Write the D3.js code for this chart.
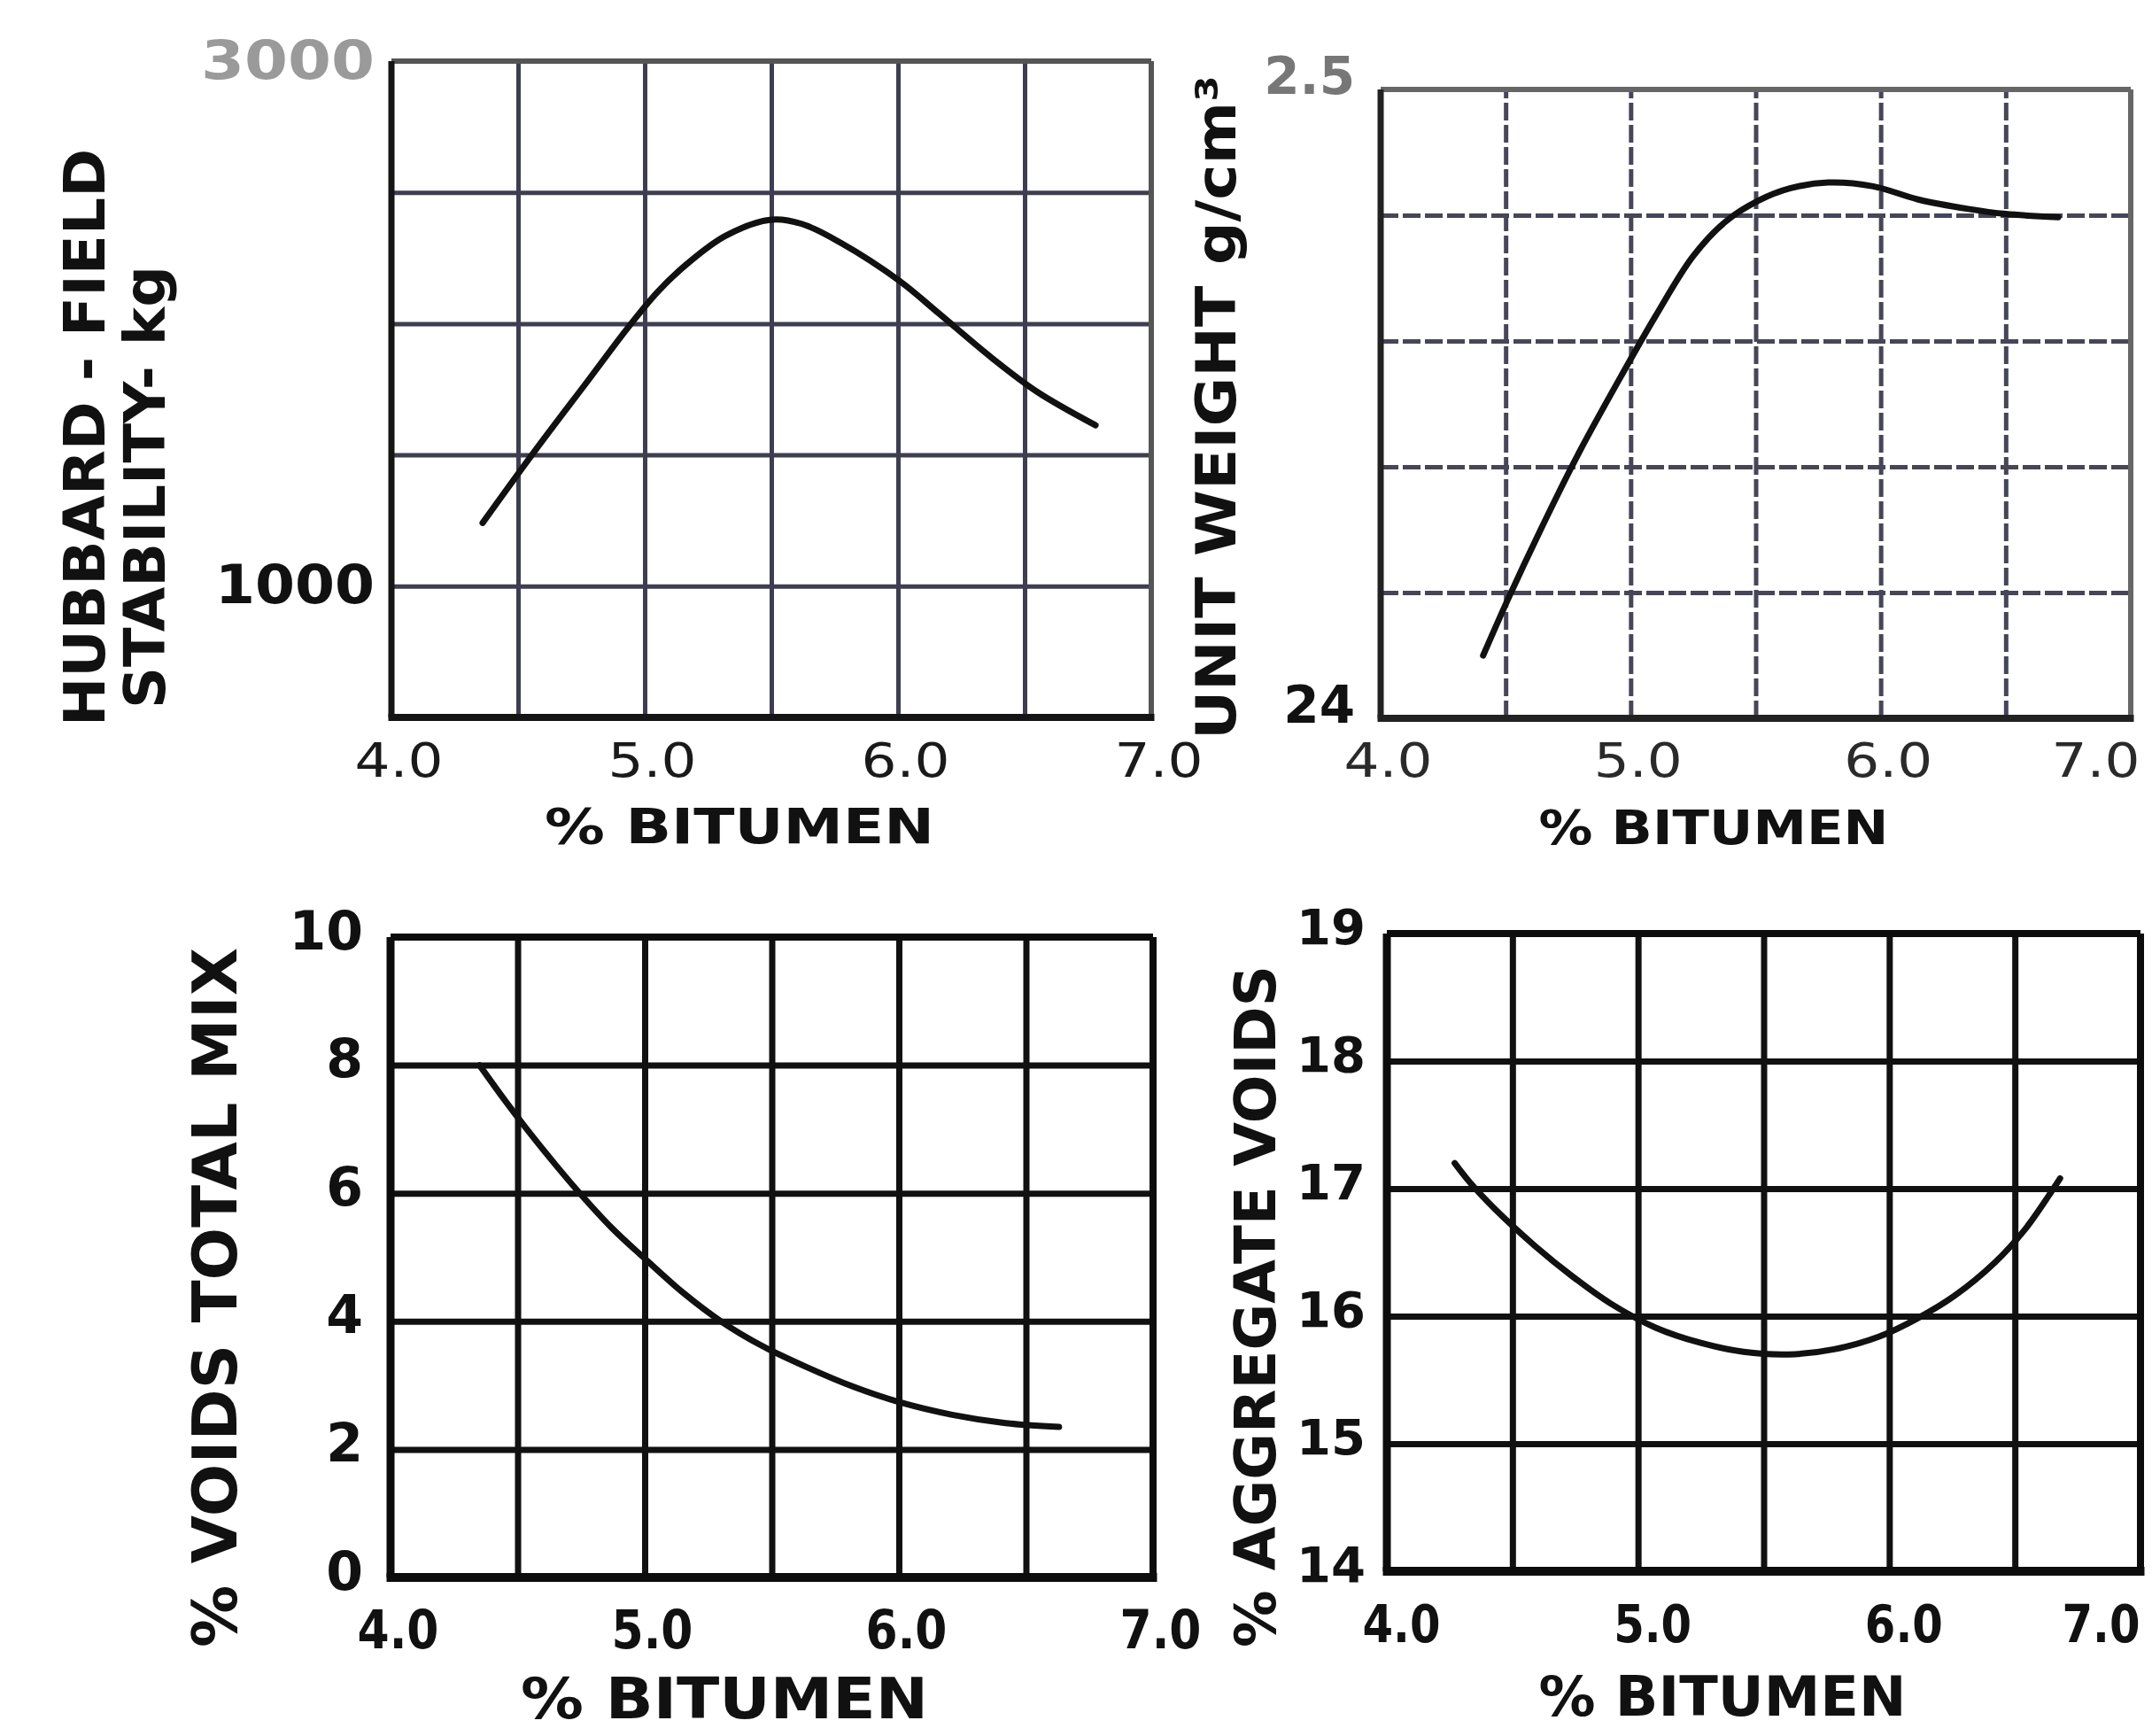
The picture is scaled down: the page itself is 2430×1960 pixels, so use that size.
<!DOCTYPE html>
<html><head><meta charset="utf-8">
<script src="https://cdn.jsdelivr.net/npm/d3@7"></script>
<style>html,body{margin:0;padding:0;background:#fff;} svg{display:block}</style>
</head><body>
<script>
// ---------- DATA ----------
const bitumenTicks = [4.0, 5.0, 6.0, 7.0];
const bitumenTickLabels = ["4.0", "5.0", "6.0", "7.0"];
const bitumenGrid = [4.0, 4.5, 5.0, 5.5, 6.0, 6.5, 7.0];

// Panel 1 : Hubbard-Field stability (kg)
const stabBitumen = [4.36, 4.57, 4.78, 4.93, 5.05, 5.17, 5.32, 5.50, 5.62, 5.77, 6.01, 6.16, 6.37, 6.55, 6.78];
const stabValues  = [1241, 1520, 1788, 1980, 2120, 2230, 2335, 2396, 2380, 2310, 2160, 2040, 1870, 1740, 1613];
const stabGrid = [500, 1000, 1500, 2000, 2500, 3000];
const stabTicks = [1000, 3000];
const stabTickLabels = ["1000", "3000"];

// Panel 2 : unit weight (g/cm3)
const unitBitumen = [4.41, 4.51, 4.64, 4.79, 4.97, 5.10, 5.25, 5.38, 5.51, 5.64, 5.79, 5.97, 6.15, 6.35, 6.50, 6.71];
const unitValues  = [2.410, 2.419, 2.430, 2.442, 2.455, 2.464, 2.4735, 2.479, 2.4823, 2.4843, 2.4852, 2.4846, 2.4825, 2.481, 2.4802, 2.4797];
const unitGrid = [2.40, 2.42, 2.44, 2.46, 2.48, 2.50];
const unitTicks = [2.40, 2.50];
const unitTickLabels = ["24", "2.5"];

// Panel 3 : % voids total mix
const vtmBitumen = [4.35, 4.45, 4.55, 4.65, 4.74, 4.87, 5.00, 5.15, 5.30, 5.46, 5.64, 5.82, 6.00, 6.21, 6.42, 6.63];
const vtmValues  = [8.00, 7.45, 6.93, 6.44, 6.02, 5.46, 4.98, 4.45, 4.00, 3.62, 3.28, 2.98, 2.74, 2.54, 2.41, 2.35];
const vtmGrid = [0, 2, 4, 6, 8, 10];
const vtmTickLabels = ["0", "2", "4", "6", "8", "10"];

// Panel 4 : % aggregate voids
const vmaBitumen = [4.27, 4.33, 4.43, 4.59, 4.74, 4.89, 5.07, 5.25, 5.42, 5.60, 5.78, 5.96, 6.11, 6.26, 6.42, 6.54, 6.64, 6.68];
const vmaValues  = [17.20, 17.05, 16.84, 16.55, 16.31, 16.10, 15.91, 15.79, 15.72, 15.70, 15.74, 15.84, 15.98, 16.16, 16.42, 16.68, 16.96, 17.08];
const vmaGrid = [14, 15, 16, 17, 18, 19];
const vmaTickLabels = ["14", "15", "16", "17", "18", "19"];

const xTitle = "% BITUMEN";

// ---------- DRAW ----------
const W = 2430, H = 1960;
const svg = d3.select("body").append("svg").attr("width", W).attr("height", H)
  .style("font-family", "'DejaVu Sans', sans-serif");
svg.append("rect").attr("width", W).attr("height", H).attr("fill", "#fff");

function rotText(g, txt, cx, cy, len, size, color) {
  g.append("text")
    .attr("transform", `translate(${cx},${cy}) rotate(-90)`)
    .attr("text-anchor", "middle").attr("dominant-baseline", "central")
    .attr("font-size", size).attr("font-weight", "bold").attr("fill", color || "#111")
    .attr("textLength", len).attr("lengthAdjust", "spacingAndGlyphs")
    .text(txt);
}

function panel(cfg) {
  const x = d3.scaleLinear().domain([4, 7]).range([cfg.left, cfg.right]);
  const y = d3.scaleLinear().domain(cfg.yDomain).range([cfg.bottom, cfg.top]);
  const g = svg.append("g");
  const h = cfg.bottom - cfg.top, w = cfg.right - cfg.left;

  // vertical grid
  const gx = g.append("g").attr("transform", `translate(0,${cfg.bottom})`)
    .call(d3.axisBottom(x).tickValues(bitumenGrid).tickSize(-h).tickFormat(""));
  gx.select(".domain").remove();
  gx.selectAll("line").attr("stroke", cfg.gridColor).attr("stroke-width", cfg.gridWidth)
    .attr("stroke-dasharray", cfg.dash || null);
  // horizontal grid
  const gy = g.append("g").attr("transform", `translate(${cfg.left},0)`)
    .call(d3.axisLeft(y).tickValues(cfg.yGrid).tickSize(-w).tickFormat(""));
  gy.select(".domain").remove();
  gy.selectAll("line").attr("stroke", cfg.gridColor).attr("stroke-width", cfg.gridWidth)
    .attr("stroke-dasharray", cfg.dash || null);

  // frame
  g.append("line").attr("x1", cfg.right).attr("x2", cfg.right).attr("y1", cfg.top).attr("y2", cfg.bottom)
    .attr("stroke", cfg.topColor).attr("stroke-width", cfg.frameWidth - 1);
  g.append("line").attr("x1", cfg.left).attr("x2", cfg.right).attr("y1", cfg.top).attr("y2", cfg.top)
    .attr("stroke", cfg.topColor).attr("stroke-width", cfg.frameWidth - 1);
  g.append("line").attr("x1", cfg.left).attr("x2", cfg.left).attr("y1", cfg.top).attr("y2", cfg.bottom)
    .attr("stroke", cfg.frameColor).attr("stroke-width", cfg.frameWidth);
  g.append("line").attr("x1", cfg.left - cfg.frameWidth / 2).attr("x2", cfg.right + cfg.frameWidth / 2)
    .attr("y1", cfg.bottom).attr("y2", cfg.bottom)
    .attr("stroke", cfg.frameColor).attr("stroke-width", cfg.frameWidth + 1);

  // curve
  const line = d3.line().x(d => x(d[0])).y(d => y(d[1])).curve(d3.curveCatmullRom.alpha(0.5));
  g.append("path").datum(d3.zip(cfg.xs, cfg.ys)).attr("d", line)
    .attr("fill", "none").attr("stroke", "#111").attr("stroke-width", cfg.curveWidth)
    .attr("stroke-linecap", "round").attr("stroke-linejoin", "round");

  // x tick labels
  const xl = g.append("g").attr("transform", `translate(${cfg.xLabelDx},${cfg.xLabelY})`)
    .call(d3.axisBottom(x).tickValues(bitumenTicks).tickSize(0)
      .tickFormat((d, i) => bitumenTickLabels[i]));
  xl.select(".domain").remove();
  xl.selectAll("text").attr("font-size", cfg.xTickSize).attr("font-weight", cfg.tickWeight)
    .attr("font-family", "'DejaVu Sans', sans-serif").attr("fill", cfg.tickColor)
    .attr("dy", 0).attr("dominant-baseline", "central").attr("y", 0)
    .attr("textLength", cfg.xTickLen).attr("lengthAdjust", "spacingAndGlyphs")
    .attr("x", d => {
      const c = x(d) + cfg.xLabelDx;
      const over = c + cfg.xTickLen / 2 - (W - 14);
      return over > 0 ? -over : 0;
    });

  // y tick labels
  const yl = g.append("g").attr("transform", `translate(${cfg.yLabelX},${cfg.yLabelDy})`)
    .call(d3.axisLeft(y).tickValues(cfg.yTicks).tickSize(0)
      .tickFormat((d, i) => cfg.yTickLabels[i]));
  yl.select(".domain").remove();
  const yt = yl.selectAll("text").attr("font-size", cfg.yTickSize).attr("font-weight", cfg.yTickWeight || "bold")
    .attr("font-family", "'DejaVu Sans', sans-serif")
    .attr("fill", (d, i) => (cfg.yTickColors ? cfg.yTickColors[i] : "#111"))
    .attr("dy", 0).attr("x", 0).attr("dominant-baseline", "central");
  if (cfg.yTickLens) yt.attr("textLength", (d, i) => cfg.yTickLens[i]).attr("lengthAdjust", "spacingAndGlyphs");

  // x title
  g.append("text").attr("x", cfg.xTitleX).attr("y", cfg.xTitleY)
    .attr("text-anchor", "middle").attr("dominant-baseline", "central")
    .attr("font-size", cfg.xTitleSize).attr("font-weight", "bold").attr("fill", "#111")
    .attr("textLength", cfg.xTitleLen).attr("lengthAdjust", "spacingAndGlyphs")
    .text(xTitle);
  return g;
}

// Panel 1
const g1 = panel({
  left: 442, right: 1300, top: 69, bottom: 810, yDomain: [500, 3000], yGrid: stabGrid,
  yTicks: stabTicks, yTickLabels: stabTickLabels, yTickColors: ["#111", "#9a9a9a"], yTickLens: [180, 196],
  xs: stabBitumen, ys: stabValues,
  gridColor: "#3e3e50", gridWidth: 5, frameColor: "#151515", topColor: "#555", frameWidth: 7, curveWidth: 7,
  xLabelDx: 8, xLabelY: 858, xTickSize: 54, xTickLen: 100, tickWeight: "normal", tickColor: "#1a1a1a",
  yLabelX: 423, yLabelDy: -2, yTickSize: 60,
  xTitleX: 835, xTitleY: 932, xTitleSize: 56, xTitleLen: 440
});
rotText(g1, "HUBBARD - FIELD", 96, 494, 652, 64);
rotText(g1, "STABILITY- kg", 164, 550, 500, 64);

// Panel 2
const g2 = panel({
  left: 1559, right: 2406, top: 101, bottom: 811, yDomain: [2.40, 2.50], yGrid: unitGrid,
  yTicks: unitTicks, yTickLabels: unitTickLabels, yTickColors: ["#111", "#777"],
  xs: unitBitumen, ys: unitValues,
  gridColor: "#464658", gridWidth: 5, dash: "20,5", frameColor: "#222", topColor: "#666", frameWidth: 7, curveWidth: 7,
  xLabelDx: 8, xLabelY: 858, xTickSize: 54, xTickLen: 100, tickWeight: "normal", tickColor: "#2a2a2a",
  yLabelX: 1530, yLabelDy: -16, yTickSize: 58,
  xTitleX: 1935, xTitleY: 934, xTitleSize: 54, xTitleLen: 395
});
rotText(g2, "UNIT WEIGHT g/cm\u00B3", 1373, 460, 750, 62);

// Panel 3
const g3 = panel({
  left: 441, right: 1302, top: 1058, bottom: 1781, yDomain: [0, 10], yGrid: vtmGrid,
  yTicks: vtmGrid, yTickLabels: vtmTickLabels,
  xs: vtmBitumen, ys: vtmValues,
  gridColor: "#111", gridWidth: 7, frameColor: "#0c0c0c", topColor: "#0c0c0c", frameWidth: 9, curveWidth: 7,
  xLabelDx: 8, xLabelY: 1840, xTickSize: 60, xTickLen: 92, tickWeight: "bold", tickColor: "#111",
  yLabelX: 410, yLabelDy: -8, yTickSize: 60,
  xTitleX: 818, xTitleY: 1918, xTitleSize: 64, xTitleLen: 460
});
rotText(g3, "% VOIDS TOTAL MIX", 243, 1465, 790, 70);

// Panel 4
const g4 = panel({
  left: 1566, right: 2417, top: 1054, bottom: 1774, yDomain: [14, 19], yGrid: vmaGrid,
  yTicks: vmaGrid, yTickLabels: vmaTickLabels,
  xs: vmaBitumen, ys: vmaValues,
  gridColor: "#111", gridWidth: 7, frameColor: "#0c0c0c", topColor: "#0c0c0c", frameWidth: 9, curveWidth: 7,
  xLabelDx: 16, xLabelY: 1834, xTickSize: 58, xTickLen: 88, tickWeight: "bold", tickColor: "#111",
  yLabelX: 1542, yLabelDy: -8, yTickSize: 56,
  xTitleX: 1945, xTitleY: 1915, xTitleSize: 62, xTitleLen: 415
});
rotText(g4, "% AGGREGATE VOIDS", 1418, 1475, 770, 64);
</script>
</body></html>
